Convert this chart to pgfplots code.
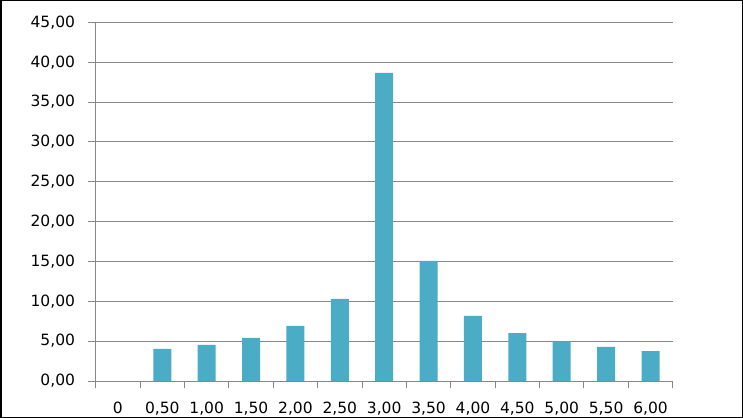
\documentclass[border=0pt]{standalone}
\usepackage{pgfplots}
\pgfplotsset{compat=1.18}
\usepackage{fontspec}
\setmainfont{DejaVu Sans}
\definecolor{barc}{HTML}{4BACC6}
\definecolor{gridc}{HTML}{878787}
\begin{document}
\begin{tikzpicture}
\useasboundingbox (0,0) rectangle (743bp,418bp);
\fill[white] (0,0) rectangle (743bp,418bp);
\draw[line width=1.5bp] (0.75bp,0.75bp) rectangle (742.25bp,417.25bp);
\begin{axis}[
  at={(95.7bp,37bp)}, anchor=south west,
  scale only axis, width=577bp, height=358.7bp,
  xmin=-0.5, xmax=12.5, ymin=0, ymax=45,
  axis x line*=bottom, axis y line*=left,
  axis line style={draw=gridc, line width=0.9bp, -},
  ytick={0,5,...,45},
  xtick={0,...,12},
  xticklabels={0,{0,50},{1,00},{1,50},{2,00},{2,50},{3,00},{3,50},{4,00},{4,50},{5,00},{5,50},{6,00}},
  minor xtick={-0.5,0.5,...,12.5},
  tick align=outside,
  major x tick style={draw=none},
  major tick length=7.5bp,
  minor tick length=6.5bp,
  tick style={draw=gridc, line width=0.9bp},
  ymajorgrids, grid style={draw=gridc, line width=0.9bp},
  /pgf/number format/.cd, fixed, fixed zerofill, precision=2, use comma, assume math mode=true,
  /pgfplots/.cd,
  ticklabel style={font=\fontsize{15.5bp}{18bp}\selectfont, text=black},
  yticklabel style={anchor=east, inner sep=0pt, xshift=-13bp},
  xticklabel style={anchor=base, inner sep=0pt, yshift=-25bp},
]
\addplot[ybar, bar width=18bp, fill=barc, draw=none] coordinates {
(0,0) (1,4.02) (2,4.52) (3,5.40) (4,6.90) (5,10.29) (6,38.65) (7,15.06) (8,8.16) (9,6.02) (10,4.98) (11,4.27) (12,3.76)
};
\end{axis}
\end{tikzpicture}
\end{document}
